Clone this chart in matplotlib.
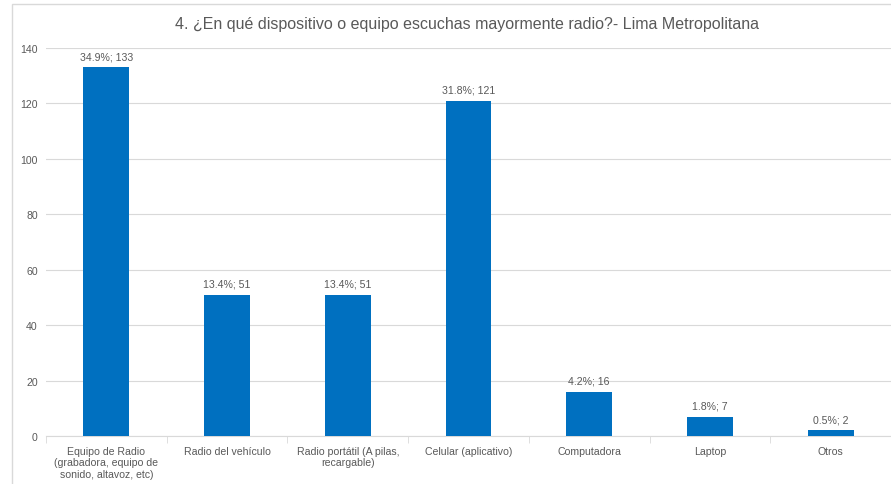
import matplotlib.pyplot as plt
from matplotlib.patches import Rectangle

categories = ['Equipo de Radio\n(grabadora, equipo de\nsonido, altavoz, etc)',
              'Radio del vehículo',
              'Radio portátil (A pilas,\nrecargable)',
              'Celular (aplicativo)',
              'Computadora',
              'Laptop',
              'Otros']
counts = [133, 51, 51, 121, 16, 7, 2]
percents = ['34.9%', '13.4%', '13.4%', '31.8%', '4.2%', '1.8%', '0.5%']

plt.rcParams['font.family'] = ['Liberation Sans', 'DejaVu Sans']
txt = '#595959'

fig = plt.figure(figsize=(8.91, 4.85), dpi=100)
fig.patches.append(Rectangle((12 / 891, -0.01), 1.0, 1 - 5 / 485 + 0.01, transform=fig.transFigure,
                             fill=False, edgecolor='#d9d9d9', linewidth=1.0))
ax = fig.add_axes([46 / 891, 1 - 437 / 485, (891 - 46) / 891, (437 - 49) / 485])

x = range(len(counts))
ax.bar(x, counts, width=0.38, color='#0070c0', zorder=3)
for i, (c, p) in enumerate(zip(counts, percents)):
    ax.text(i, c + 2.3, f'{p}; {c}', ha='center', va='bottom', fontsize=7.6, color=txt)

ax.set_xlim(-0.5, 6.5)
ax.set_ylim(0, 140)
ax.set_yticks(range(0, 141, 20))
ax.set_xticks(list(x))
ax.set_xticklabels(categories, fontsize=7.6, color=txt, linespacing=1.2)
ax.set_xticks([i - 0.5 for i in range(8)], minor=True)
ax.tick_params(axis='x', which='major', length=0, pad=7)
ax.tick_params(axis='x', which='minor', length=5, color='#d9d9d9')
ax.tick_params(axis='y', length=0, labelsize=7.6, labelcolor=txt, pad=6)
ax.grid(axis='y', color='#d9d9d9', linewidth=0.8, zorder=0)
for s in ['top', 'right', 'left']:
    ax.spines[s].set_visible(False)
ax.spines['bottom'].set_color('#d9d9d9')

fig.text(467 / 891, 1 - 24 / 485, '4. ¿En qué dispositivo o equipo escuchas mayormente radio?- Lima Metropolitana',
         ha='center', va='center', fontsize=11.5, color=txt)

fig.savefig('out.png', dpi=100)
